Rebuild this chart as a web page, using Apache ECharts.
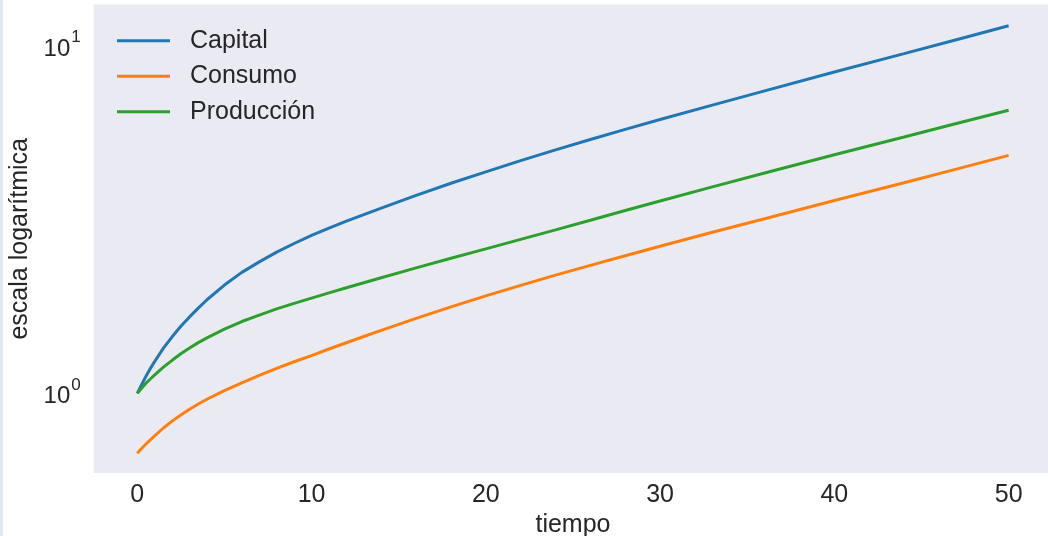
<!DOCTYPE html>
<html>
<head>
<meta charset="utf-8">
<script src="https://cdn.jsdelivr.net/npm/echarts@6/dist/echarts.min.js"></script>
<style>
  html, body { margin: 0; padding: 0; background: #ffffff; }
  #chart { width: 1048px; height: 536px; position: relative; }
  #stripe { position: absolute; left: 0; top: 0; width: 3px; height: 536px; background: #dfe7f0; z-index: 10; }
</style>
</head>
<body>
<div id="stripe"></div>
<div id="chart"></div>
<script>
// Data
const tiempo     = [0, 0.25, 0.5, 0.75, 1, 1.5, 2, 2.5, 3, 3.5, 4, 5, 6, 7, 8, 9, 10, 11, 12, 13, 14, 16, 18, 20, 22, 24, 26, 28, 30, 33, 36, 40, 44, 47, 50];
const capital    = [1.00, 1.06, 1.12, 1.18, 1.235, 1.35, 1.455, 1.56, 1.66, 1.76, 1.86, 2.05, 2.23, 2.39, 2.55, 2.70, 2.85, 2.99, 3.13, 3.27, 3.415, 3.715, 4.025, 4.34, 4.675, 5.02, 5.38, 5.75, 6.14, 6.755, 7.425, 8.41, 9.50, 10.42, 11.43];
const consumo    = [0.672, 0.694, 0.715, 0.735, 0.755, 0.795, 0.832, 0.867, 0.900, 0.932, 0.962, 1.018, 1.072, 1.126, 1.180, 1.233, 1.285, 1.342, 1.399, 1.458, 1.519, 1.644, 1.774, 1.908, 2.046, 2.19, 2.336, 2.49, 2.650, 2.91, 3.18, 3.59, 4.04, 4.42, 4.842];
const produccion = [1.00, 1.035, 1.07, 1.10, 1.13, 1.19, 1.245, 1.30, 1.35, 1.40, 1.445, 1.53, 1.61, 1.68, 1.75, 1.815, 1.88, 1.946, 2.013, 2.082, 2.152, 2.297, 2.449, 2.605, 2.775, 2.955, 3.15, 3.36, 3.58, 3.93, 4.31, 4.86, 5.47, 5.98, 6.53];
const seriesNames = ['Capital', 'Consumo', 'Producción'];
const xTicks = [0, 10, 20, 30, 40, 50];
const yTicks = [1, 10];

const colors = ['#1f77b4', '#ff7f0e', '#2ca02c'];
const FONT = 'Liberation Sans, Arial, sans-serif';
const TXT = '#262626';

function pairs(vals) { return tiempo.map((t, i) => [t, vals[i]]); }

const chart = echarts.init(document.getElementById('chart'), null, { renderer: 'canvas' });
chart.setOption({
  animation: false,
  backgroundColor: '#ffffff',
  textStyle: { fontFamily: FONT },
  grid: {
    left: 93.7, top: 4.6, width: 958.5, height: 468.4,
    show: true, backgroundColor: '#eaeaf2', borderWidth: 0,
    containLabel: false, outerBoundsMode: 'none'
  },
  legend: {
    orient: 'vertical', left: 117, top: 28, padding: 0,
    itemWidth: 53, itemHeight: 3, itemGap: 10,
    icon: 'rect',
    data: seriesNames,
    textStyle: { fontSize: 25, color: TXT, fontFamily: FONT, lineHeight: 25.5, padding: [0, 0, 0, 15] }
  },
  xAxis: {
    type: 'value', min: -2.5, max: 52.5,
    name: 'tiempo', nameLocation: 'middle', nameGap: 40,
    nameTextStyle: { fontSize: 25, color: TXT, fontFamily: FONT },
    axisLine: { show: false }, axisTick: { show: false }, splitLine: { show: false },
    axisLabel: { customValues: xTicks, fontSize: 25, color: TXT, fontFamily: FONT, margin: 10 }
  },
  yAxis: {
    type: 'log', logBase: 10, min: 0.59, max: 13.15,
    name: 'escala logarítmica', nameLocation: 'middle', nameGap: 58, nameRotate: 90,
    nameTextStyle: { fontSize: 25, color: TXT, fontFamily: FONT },
    axisLine: { show: false }, axisTick: { show: false }, splitLine: { show: false },
    axisLabel: {
      customValues: yTicks,
      margin: 13,
      padding: [6, 0, 0, 0],
      formatter: function (v) {
        const e = Math.log10(v);
        if (Math.abs(e - Math.round(e)) > 1e-6) return '';
        return '{b|10}{s|' + Math.round(e) + '}';
      },
      rich: {
        b: { fontSize: 24, color: TXT, fontFamily: FONT, lineHeight: 40 },
        s: { fontSize: 17, color: TXT, fontFamily: FONT, verticalAlign: 'top', lineHeight: 14, padding: [0, 0, 0, 1] }
      }
    }
  },
  series: [
    { name: seriesNames[0], type: 'line', data: pairs(capital), showSymbol: false, lineStyle: { width: 3, color: colors[0] }, itemStyle: { color: colors[0] } },
    { name: seriesNames[1], type: 'line', data: pairs(consumo), showSymbol: false, lineStyle: { width: 3, color: colors[1] }, itemStyle: { color: colors[1] } },
    { name: seriesNames[2], type: 'line', data: pairs(produccion), showSymbol: false, lineStyle: { width: 3, color: colors[2] }, itemStyle: { color: colors[2] } }
  ]
});
</script>
</body>
</html>
